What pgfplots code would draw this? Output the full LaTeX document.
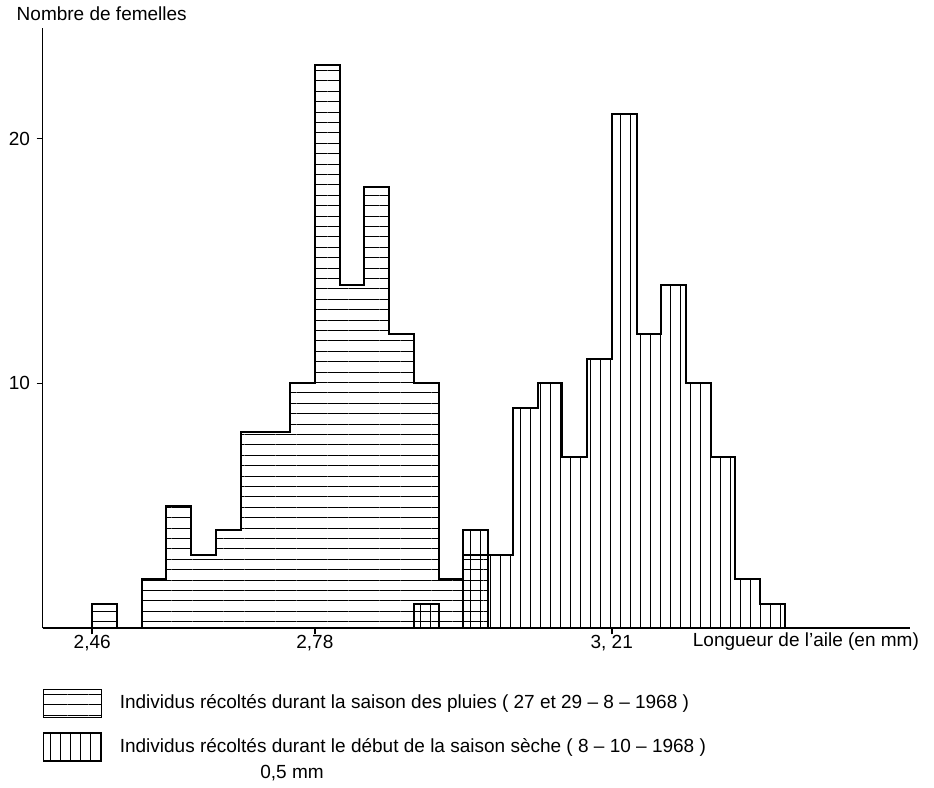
\documentclass[border=0pt]{standalone}
\usepackage{fontspec}
\setmainfont{Liberation Sans}
\usepackage{pgfplots}
\usepackage{pgfplotstable}
\pgfplotsset{compat=1.18}
\usetikzlibrary{patterns.meta}

% class index k: bin k spans [k, k+1]; 2,46 at k=0, 2,78 at k=9, 3,21 at k=21
\pgfplotstableread{
k v
0 1
1 0
2 2
3 5
4 3
5 4
6 8
7 8
8 10
9 23
10 14
11 18
12 12
13 10
14 2
15 3
16 0
}\rainy

\pgfplotstableread{
k v
13 1
14 0
15 4
16 3
17 9
18 10
19 7
20 11
21 21
22 12
23 14
24 10
25 7
26 2
27 1
28 0
}\dry

\begin{document}
\fontsize{9.5}{11}\selectfont
\begin{tikzpicture}
\path[use as bounding box] (0,0) rectangle (467pt,394pt);
\begin{axis}[
  at={(21.35pt,79.85pt)}, anchor=south west,
  scale only axis, width=433.6pt, height=300pt,
  xmin=-2, xmax=33.05, ymin=0, ymax=24.5,
  axis x line=bottom, axis y line=left,
  axis line style={-, line width=0.8pt},
  xtick={0,9,21}, xticklabels={{2,46},{2,78},{3, 21}},
  xticklabel style={yshift=3pt},
  ytick={10,20},
  tick align=outside, major tick length=3pt,
  tick style={line width=0.8pt, black},
  /pgf/number format/assume math mode=true,
  every axis y label/.style={at={(axis description cs:0,1)}, anchor=west, xshift=-16.35pt, yshift=7.5pt},
  ylabel={Nombre de femelles},
  every axis x label/.style={at={(axis description cs:0.742,0)}, anchor=west, yshift=-6.5pt},
  xlabel={Longueur de l'aile (en mm)},
  legend style={at={(axis description cs:0,-0.1)}, anchor=north west, draw=none, fill=none,
    inner sep=0pt, row sep=7pt, nodes={inner sep=0pt}},
  legend cell align=left,
  legend image code/.code={\draw[#1, line width=0.7pt] (0pt,-7pt) rectangle (29pt,7pt); \path (37.5pt,0pt);},
]
\addplot[const plot, draw=black, line width=1pt,
  pattern={Lines[angle=0,distance=5.2pt,line width=0.4pt]}]
  table[x=k,y=v]{\rainy} \closedcycle;
\addlegendentry{Individus récoltés durant la saison des pluies ( 27 et 29 -- 8 -- 1968 )}
\addplot[const plot, draw=black, line width=1pt,
  pattern={Lines[angle=90,distance=5pt,line width=0.4pt]}]
  table[x=k,y=v]{\dry} \closedcycle;
\addlegendentry{Individus récoltés durant le début de la saison sèche ( 8 -- 10 -- 1968 )}
\end{axis}
\node at (146pt,7.5pt) {0,5 mm};
\end{tikzpicture}
\end{document}
